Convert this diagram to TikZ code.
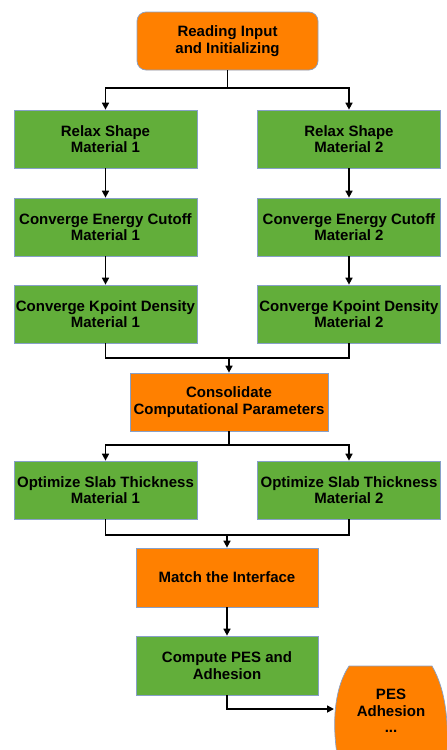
\documentclass[tikz,border=0pt]{standalone}
\usepackage{fontspec}
\setmainfont{Liberation Sans}
\usetikzlibrary{arrows.meta,calc}
\definecolor{boxgreen}{RGB}{98,174,58}
\definecolor{boxorange}{RGB}{255,128,0}
\definecolor{boxedge}{RGB}{135,160,200}
\tikzset{
  x=1pt,y=1pt,
  basebox/.style={draw=boxedge,line width=0.7pt,align=center,font=\bfseries\fontsize{15}{16.5}\selectfont,inner sep=0pt,text=black},
  greenbox/.style={basebox,fill=boxgreen,minimum width=183pt,minimum height=58pt},
  orangebox/.style={basebox,fill=boxorange,minimum height=58pt},
  arr/.style={line width=1.6pt,-{Triangle[width=7pt,length=7pt]}},
  ln/.style={line width=1.6pt},
}
\begin{document}
\begin{tikzpicture}
\useasboundingbox (0,0) rectangle (447,-750);
% PES shape
\begin{scope}
\clip (0,0) rectangle (447,-750);
\fill[boxorange,draw=boxedge,line width=0.7pt] (349,-666) -- (432,-666)
  .. controls (446,-690) and (450,-725) .. (446,-770) -- (340,-770)
  .. controls (331,-730) and (333,-690) .. (349,-666) -- cycle;
\end{scope}
\node[basebox,draw=none] (pes) at (391,-711) {PES\\Adhesion\\...};
\coordinate (pesw) at (334,-709);

\node[orangebox,minimum width=181pt,rounded corners=9pt] (top) at (227.5,-41) {Reading Input\\and Initializing};
\node[greenbox] (r1) at (105.5,-139) {Relax Shape\\Material 1};
\node[greenbox] (r2) at (349,-139) {Relax Shape\\Material 2};
\node[greenbox] (e1) at (105.5,-227) {Converge Energy Cutoff\\Material 1};
\node[greenbox] (e2) at (349,-227) {Converge Energy Cutoff\\Material 2};
\node[greenbox] (k1) at (105.5,-314) {Converge Kpoint Density\\Material 1};
\node[greenbox] (k2) at (349,-314) {Converge Kpoint Density\\Material 2};
\node[orangebox,minimum width=198pt] (cons) at (229,-402) {Consolidate\\Computational Parameters};
\node[greenbox] (o1) at (105.5,-490) {Optimize Slab Thickness\\Material 1};
\node[greenbox] (o2) at (349,-490) {Optimize Slab Thickness\\Material 2};
\node[orangebox,minimum width=182pt,minimum height=59pt] (match) at (227,-577.5) {Match the Interface};
\node[greenbox,minimum width=182pt,minimum height=59pt] (comp) at (227,-665.5) {Compute PES and\\Adhesion};

\coordinate (j1) at (227.5,-88);
\coordinate (j2) at (229,-358);
\coordinate (j3) at (229,-445);
\coordinate (j4) at (227,-535);

\draw[ln] (top.south) -- (j1);
\draw[arr] (j1) -| (r1.north);
\draw[arr] (j1) -| (r2.north);
\draw[arr] (r1) -- (e1);
\draw[arr] (r2) -- (e2);
\draw[arr] (e1) -- (k1);
\draw[arr] (e2) -- (k2);
\draw[ln] (k1.south) |- (j2);
\draw[ln] (k2.south) |- (j2);
\draw[arr] (j2) -- (cons.north);
\draw[ln] (cons.south) -- (j3);
\draw[arr] (j3) -| (o1.north);
\draw[arr] (j3) -| (o2.north);
\draw[ln] (o1.south) |- (j4);
\draw[ln] (o2.south) |- (j4);
\draw[arr] (j4) -- (match.north);
\draw[arr] (match) -- (comp);
\draw[arr] (comp.south) |- (pesw);
\end{tikzpicture}
\end{document}
